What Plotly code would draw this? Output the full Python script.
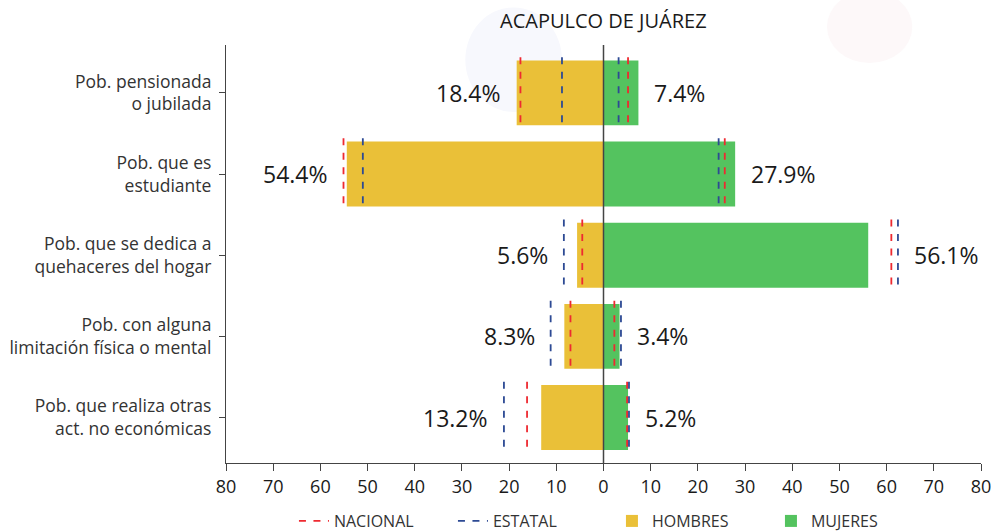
import plotly.graph_objects as go

categories = [
    "Pob. pensionada<br>o jubilada",
    "Pob. que es<br>estudiante",
    "Pob. que se dedica a<br>quehaceres del hogar",
    "Pob. con alguna<br>limitación física o mental",
    "Pob. que realiza otras<br>act. no económicas",
]
hombres = [18.4, 54.4, 5.6, 8.3, 13.2]
mujeres = [7.4, 27.9, 56.1, 3.4, 5.2]
nacional_h = [17.6, 55.1, 4.5, 7.0, 16.2]
estatal_h = [8.8, 51.0, 8.4, 11.2, 21.1]
nacional_m = [5.2, 25.7, 61.0, 2.3, 5.0]
estatal_m = [3.2, 24.4, 62.4, 3.7, 5.4]
tick_vals = [-80, -70, -60, -50, -40, -30, -20, -10, 0, 10, 20, 30, 40, 50, 60, 70, 80]
tick_text = [str(abs(v)) for v in tick_vals]
title = "ACAPULCO DE JUÁREZ"

FONT = "Open Sans"
YEL = "#eac038"
GRN = "#54c35f"
RED = "#ee2a31"
BLUE = "#2d4a94"

idx = list(range(len(categories)))
fig = go.Figure()

fig.add_trace(go.Bar(y=idx, x=[-v for v in hombres], orientation="h", name="HOMBRES",
                     marker=dict(color=YEL, line=dict(width=0)), width=0.8, legendrank=3))
fig.add_trace(go.Bar(y=idx, x=mujeres, orientation="h", name="MUJERES",
                     marker=dict(color=GRN, line=dict(width=0)), width=0.8, legendrank=4))

def dash_trace(left, right, name, color, rank):
    xs, ys = [], []
    for i, (a, b) in enumerate(zip(left, right)):
        xs += [-a, -a, None, b, b, None]
        ys += [i - 0.44, i + 0.44, None, i - 0.44, i + 0.44, None]
    return go.Scatter(x=xs, y=ys, mode="lines", name=name, legendrank=rank,
                      line=dict(color=color, width=1.8, dash="7px,7.5px"),
                      hoverinfo="skip")

fig.add_trace(dash_trace(nacional_h, nacional_m, "NACIONAL", RED, 1))
fig.add_trace(dash_trace(estatal_h, estatal_m, "ESTATAL", BLUE, 2))

annotations = []
for i in idx:
    lm = max(hombres[i], nacional_h[i], estatal_h[i])
    annotations.append(dict(x=-lm, y=i, text=f"{hombres[i]}%", xanchor="right", yanchor="middle",
                            xshift=-14, showarrow=False, font=dict(family=FONT, size=23, color="#1a1a1a")))
    rm = max(mujeres[i], nacional_m[i], estatal_m[i])
    annotations.append(dict(x=rm, y=i, text=f"{mujeres[i]}%", xanchor="left", yanchor="middle",
                            xshift=14, showarrow=False, font=dict(family=FONT, size=23, color="#1a1a1a")))
annotations.append(dict(x=0.5, y=1, xref="paper", yref="paper", yanchor="bottom", yshift=9,
                        text=title, showarrow=False, font=dict(family=FONT, size=20, color="#1a1a1a")))

shapes = [
    dict(type="circle", xref="paper", yref="paper", x0=0.317, x1=0.445, y0=0.84, y1=1.09,
         fillcolor="#f7f8fd", line=dict(width=0), layer="below"),
    dict(type="circle", xref="paper", yref="paper", x0=0.796, x1=0.909, y0=0.957, y1=1.13,
         fillcolor="#fdf8f9", line=dict(width=0), layer="below"),
    dict(type="line", xref="x", yref="paper", x0=0, x1=0, y0=0, y1=1,
         line=dict(color="#444444", width=1.5)),
]

fig.update_layout(
    width=992, height=531,
    margin=dict(l=226, r=11, t=45, b=68, autoexpand=False),
    paper_bgcolor="white", plot_bgcolor="rgba(0,0,0,0)",
    barmode="overlay",
    font=dict(family=FONT, size=16, color="#333333"),
    annotations=annotations,
    shapes=shapes,
    legend=dict(orientation="h", x=0.090, xanchor="left", y=-0.1388, yanchor="middle",
                font=dict(family=FONT, size=16, color="#333333"),
                entrywidth=114, entrywidthmode="pixels", traceorder="normal"),
    xaxis=dict(range=[-80, 80], tickvals=tick_vals, ticktext=tick_text, automargin=False,
               showgrid=False, zeroline=False, showline=True, linecolor="#444444", linewidth=1.2,
               ticks="outside", ticklen=7, tickcolor="#444444",
               tickfont=dict(family=FONT, size=18, color="#1a1a1a"), fixedrange=True),
    yaxis=dict(range=[4.56, -0.59], tickvals=idx, ticktext=categories, automargin=False,
               showgrid=False, zeroline=False, showline=True, linecolor="#444444", linewidth=1.2,
               ticks="outside", ticklen=6, tickcolor="#444444", ticklabelstandoff=4,
               tickfont=dict(family=FONT, size=17.5, color="#333333"), fixedrange=True),
)

fig.write_html("out.html", config={"displayModeBar": False},
               post_script="document.body.style.margin='0';")
